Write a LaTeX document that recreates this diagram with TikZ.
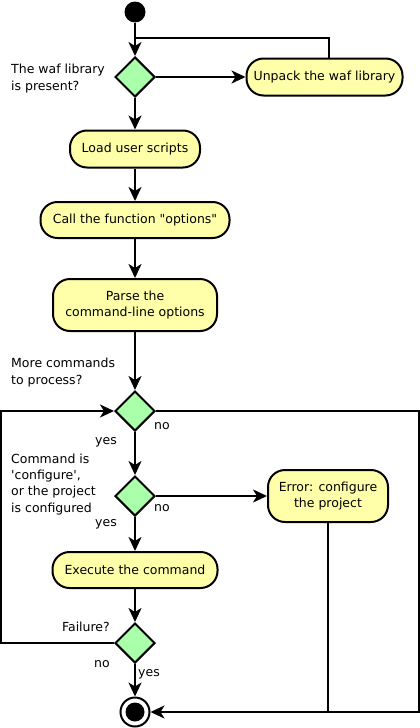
\documentclass[tikz,border=0pt]{standalone}
\usepackage{fontspec}
\setmainfont{DejaVu Sans}[Ligatures=TeXOff]
\usetikzlibrary{arrows.meta,shapes.geometric}
\definecolor{actfill}{HTML}{FFFFAA}
\definecolor{decfill}{HTML}{AAFFAA}
\begin{document}
\begin{tikzpicture}[x=1pt,y=-1pt,
  every node/.style={font=\fontsize{12.5}{16.3}\selectfont},
  flow/.style={line width=2pt,draw=black},
  arr/.style={flow,-{Stealth[length=14pt,width=13pt,inset=4pt]}},
  action/.style={draw=black,line width=2pt,fill=actfill,rectangle,rounded corners=17pt,align=center,inner sep=0pt},
  decision/.style={draw=black,line width=2pt,fill=decfill,diamond,minimum width=40pt,minimum height=40pt,inner sep=0pt},
  lbl/.style={anchor=base west,inner sep=0pt,align=left}
]
\useasboundingbox (0,0) rectangle (420,728);
% nodes
\node[circle,fill=black,minimum size=21pt,inner sep=0pt] (start) at (135,12) {};
\coordinate (j1) at (135,38);
\node[decision] (d1) at (135,77) {};
\node[action,minimum width=156pt,minimum height=37pt] (unpack) at (324.5,77) {Unpack the waf library};
\node[action,minimum width=130pt,minimum height=37pt] (load) at (135,149) {Load user scripts};
\node[action,minimum width=189pt,minimum height=36pt] (call) at (135,220) {Call the function "options"};
\node[action,minimum width=164pt,minimum height=52pt] (parse) at (135,305) {Parse the\\command-line options};
\node[decision] (d2) at (135,411) {};
\node[decision] (d3) at (135,496) {};
\node[action,minimum width=120pt,minimum height=52pt] (error) at (328,496) {Error: configure\\the project};
\node[action,minimum width=165pt,minimum height=36pt] (exec) at (135,570) {Execute the command};
\node[decision] (d4) at (135,643) {};
\node[circle,draw=black,line width=2pt,fill=white,minimum size=29pt,inner sep=0pt] (end) at (135,712) {};
\node[circle,fill=black,minimum size=19pt,inner sep=0pt] (endin) at (end) {};
\coordinate (c1) at (1,643);
\coordinate (c2) at (1,411);
\coordinate (c3) at (419,411);
\coordinate (c4) at (419,712);
\coordinate (c5) at (328,712);
% labels (base = last line)
\node[lbl] (t1) at (11,90) {The waf library\\is present?};
\node[lbl] (t2) at (11,384) {More commands\\to process?};
\node[lbl] (t3) at (11,512) {Command is\\'configure',\\or the project\\is configured};
\node[lbl,anchor=base east] (t4) at (110,631) {Failure?};
\node[lbl] (n1) at (154,429) {no};
\node[lbl,anchor=base east] (y1) at (117,444) {yes};
\node[lbl] (n2) at (154,511) {no};
\node[lbl,anchor=base east] (y2) at (117,526) {yes};
\node[lbl,anchor=base east] (n3) at (110,667) {no};
\node[lbl] (y3) at (138,676) {yes};
% connectors
\draw[arr] (start) -- (d1);
\draw[flow] ([xshift=4.5pt]unpack.north) |- (j1);
\draw[arr] (d1) -- (unpack);
\draw[arr] (d1) -- (load);
\draw[arr] (load) -- (call);
\draw[arr] (call) -- (parse);
\draw[arr] (parse) -- (d2);
\draw[arr] (d2) -- (d3);
\draw[arr] (d3) -- (error);
\draw[arr] (d3) -- (exec);
\draw[arr] (exec) -- (d4);
\draw[arr] (d4) -- (end);
\draw[arr] (d4.west) -- (c1) -- (c2) -- (d2.west);
\draw[arr] (d2.east) -- (c3) -- (c4) -- (end.east);
\draw[flow] (error.south) -- (c5);
\end{tikzpicture}
\end{document}
